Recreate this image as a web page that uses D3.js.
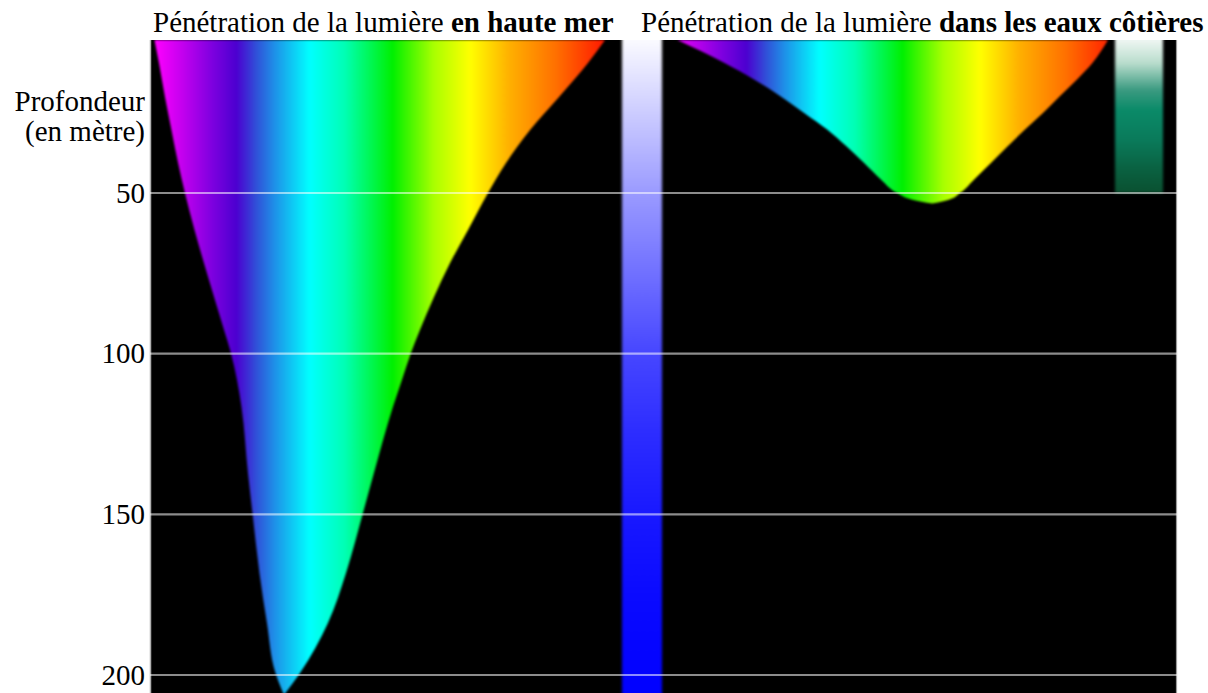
<!DOCTYPE html>
<html><head><meta charset="utf-8">
<script src="https://cdn.jsdelivr.net/npm/d3@7"></script>
<style>
body{margin:0;background:#fff}
svg{display:block}
text{font-family:"Liberation Serif","Times New Roman",serif;fill:#000}
</style>
</head><body>
<svg id="chart" width="1208" height="693"></svg>
<script>
// ---------- DATA ----------
const depthTicks = [50, 100, 150, 200];
const titleOcean = ["Pénétration de la lumière ", "en haute mer"];
const titleCoast = ["Pénétration de la lumière ", "dans les eaux côtières"];
const axisTitle = ["Profondeur", "(en mètre)"];

// Open ocean: depth (m), shortest and longest wavelength (nm) still reaching it
const oceanDepth = [2.4, 9.55, 20.1, 30.4, 40.7, 50, 61.5, 71.8, 82.4, 92.6, 99.8, 108.2, 116.6, 137.1, 149.6, 168.3, 183.8, 199.4, 206.2];
const oceanShort = [379.6, 382.8, 387.1, 391.7, 396.4, 401.3, 408.1, 414.8, 422.0, 429.1, 434.0, 438.3, 441.5, 446.1, 449.3, 454.3, 459.6, 465.7, 471.7];
const oceanLong  = [700.0, 687.9, 667.3, 646.7, 629.6, 616.8, 602.6, 589.8, 578.4, 568.4, 562.0, 555.6, 549.2, 535.7, 527.9, 515.8, 503.0, 483.1, 471.7];

// Coastal waters
const coastDepth = [2.4, 9.46, 14.66, 19.82, 25.11, 30.25, 35.39, 40.68, 45.84, 50.0, 52.07, 53.28];
const coastShort = [388.9, 422.0, 443.3, 461.8, 478.9, 495.3, 508.8, 521.6, 533.7, 545.1, 555.8, 570.0];
const coastLong  = [695.0, 684.1, 673.0, 660.9, 648.8, 636.0, 623.9, 611.8, 599.7, 589.8, 581.9, 570.0];

// Spectrum colour stops (nm)
const spectrumNm     = [380, 398, 420, 438, 452, 465, 490, 515, 549, 578, 604, 632, 665, 700];
const spectrumColors = ["#ff00ff", "#c800f0", "#8000e0", "#4c00d0", "#3050d8", "#1e90e8", "#00ffff", "#00ffb4", "#00f000", "#a8ff00", "#ffff00", "#ffb000", "#ff7000", "#ff1800"];

// Resulting water colour with depth
const oceanBarDepth  = [2.4, 20, 50, 75, 100, 125, 150, 175, 206];
const oceanBarColors = ["#fafaff", "#d6d6ff", "#9a9aff", "#7070ff", "#4646ff", "#2c2cff", "#1818ff", "#0a0aff", "#0000ff"];
const coastBarDepth  = [2.4, 9.6, 18, 24.2, 33.5, 42.9, 50];
const coastBarColors = ["#eef6f2", "#b8dccc", "#3a9a80", "#0a8a68", "#0a7a5a", "#0a6040", "#0a5030"];

// ---------- LAYOUT ----------
const panel = {x0: 150, x1: 1177, y0: 40, y1: 693};
const svg = d3.select("#chart");
const defs = svg.append("defs");

const y = d3.scaleLinear().domain([50, 200]).range([193, 675]);
const xOcean = d3.scaleLinear().domain([380, 700]).range([155, 605]);
const xCoast = d3.scaleLinear().domain([380, 700]).range([665, 1115]);
const oceanBarX = [622, 662];
const coastBarX = [1115, 1163];
const topDepth = y.invert(panel.y0);
const botDepth = y.invert(panel.y1);

function makeBlur(id, sd, yPad) {
  const f = defs.append("filter").attr("id", id)
    .attr("x", "-10%").attr("y", yPad).attr("width", "120%").attr("height", "auto")
    .attr("color-interpolation-filters", "sRGB");
  f.append("feGaussianBlur").attr("stdDeviation", sd);
  return f;
}
defs.append("filter").attr("id", "soft").attr("x", "-5%").attr("y", "-5%").attr("width", "110%").attr("height", "110%")
  .attr("color-interpolation-filters", "sRGB").append("feGaussianBlur").attr("stdDeviation", 1.1);
defs.append("filter").attr("id", "soft2").attr("x", "-20%").attr("y", "-2%").attr("width", "140%").attr("height", "104%")
  .attr("color-interpolation-filters", "sRGB").append("feGaussianBlur").attr("stdDeviation", 1.5);
defs.append("filter").attr("id", "gblur").attr("x", "0").attr("y", "-300%").attr("width", "100%").attr("height", "700%")
  .attr("color-interpolation-filters", "sRGB").append("feGaussianBlur").attr("stdDeviation", 1.0);

defs.append("clipPath").attr("id", "panelClip").append("rect")
  .attr("x", panel.x0).attr("y", panel.y0).attr("width", panel.x1 - panel.x0).attr("height", panel.y1 - panel.y0);

function spectrumGradient(id, xs) {
  const g = defs.append("linearGradient").attr("id", id).attr("gradientUnits", "userSpaceOnUse")
    .attr("x1", xs(380)).attr("x2", xs(700)).attr("y1", 0).attr("y2", 0);
  g.selectAll("stop").data(spectrumNm).join("stop")
    .attr("offset", d => (d - 380) / 320)
    .attr("stop-color", (d, i) => spectrumColors[i]);
}
spectrumGradient("specOcean", xOcean);
spectrumGradient("specCoast", xCoast);

function depthGradient(id, depths, colors, d0, d1) {
  const g = defs.append("linearGradient").attr("id", id).attr("gradientUnits", "userSpaceOnUse")
    .attr("x1", 0).attr("x2", 0).attr("y1", y(d0)).attr("y2", y(d1));
  g.selectAll("stop").data(depths).join("stop")
    .attr("offset", d => (d - d0) / (d1 - d0))
    .attr("stop-color", (d, i) => colors[i]);
}
depthGradient("barOcean", oceanBarDepth, oceanBarColors, topDepth, botDepth);
depthGradient("barCoast", coastBarDepth, coastBarColors, topDepth, 50);

// panel background
svg.append("rect").attr("x", panel.x0).attr("y", panel.y0)
  .attr("width", panel.x1 - panel.x0).attr("height", panel.y1 - panel.y0).attr("fill", "#000");
svg.append("line").attr("x1", panel.x0 + 0.5).attr("x2", panel.x0 + 0.5).attr("y1", panel.y0).attr("y2", panel.y1)
  .attr("stroke", "#b0b0b0").attr("stroke-width", 1.5);
svg.append("line").attr("x1", panel.x1 - 0.5).attr("x2", panel.x1 - 0.5).attr("y1", panel.y0).attr("y2", panel.y1)
  .attr("stroke", "#9a9a9a").attr("stroke-width", 1.2);

const plot = svg.append("g").attr("clip-path", "url(#panelClip)");

function penetration(depths, shortNm, longNm, xs, fillId) {
  const pts = depths.map((d, i) => ({d, a: shortNm[i], b: longNm[i]}));
  const area = d3.area()
    .y(p => y(p.d))
    .x0(p => xs(p.a))
    .x1(p => xs(p.b))
    .curve(d3.curveMonotoneY);
  plot.append("path").datum(pts).attr("d", area)
    .attr("fill", `url(#${fillId})`).attr("filter", "url(#soft)");
}
penetration(oceanDepth, oceanShort, oceanLong, xOcean, "specOcean");
penetration(coastDepth, coastShort, coastLong, xCoast, "specCoast");

// water colour bars
plot.append("rect").attr("x", oceanBarX[0]).attr("width", oceanBarX[1] - oceanBarX[0])
  .attr("y", y(topDepth) - 6).attr("height", y(botDepth) - y(topDepth) + 12)
  .attr("fill", "url(#barOcean)").attr("filter", "url(#soft2)");
plot.append("rect").attr("x", coastBarX[0]).attr("width", coastBarX[1] - coastBarX[0])
  .attr("y", y(topDepth) - 6).attr("height", y(50) - y(topDepth) + 6)
  .attr("fill", "url(#barCoast)").attr("filter", "url(#soft2)");

// grid lines
const grid = svg.append("g");
grid.selectAll("line.glow").data(depthTicks).join("line").attr("class", "glow")
  .attr("x1", panel.x0).attr("x2", panel.x1).attr("y1", d => y(d)).attr("y2", d => y(d))
  .attr("stroke", "#ffffff").attr("stroke-opacity", 0.35).attr("stroke-width", 5).attr("filter", "url(#gblur)");
grid.selectAll("line.core").data(depthTicks).join("line").attr("class", "core")
  .attr("x1", panel.x0).attr("x2", panel.x1).attr("y1", d => y(d)).attr("y2", d => y(d))
  .attr("stroke", "#ffffff").attr("stroke-opacity", 0.55).attr("stroke-width", 2.2);

// y axis labels
const axis = d3.axisLeft(y).tickValues(depthTicks).tickSize(0).tickPadding(4).tickFormat(d3.format("d"));
const ag = svg.append("g").attr("transform", `translate(${panel.x0 - 1},0)`).call(axis);
ag.select(".domain").remove();
ag.attr("font-family", null).attr("font-size", null);
ag.selectAll("text").style("font-size", "29px").style("font-family", "'Liberation Serif', 'Times New Roman', serif").style("fill", "#000");

svg.append("text").attr("x", 145).attr("y", 111).attr("text-anchor", "end").style("font-size", "29px").text(axisTitle[0]);
svg.append("text").attr("x", 145).attr("y", 141).attr("text-anchor", "end").style("font-size", "29px").text(axisTitle[1]);

// titles
function title(x, parts) {
  const t = svg.append("text").attr("x", x).attr("y", 32).style("font-size", "29px");
  t.append("tspan").text(parts[0]);
  t.append("tspan").attr("font-weight", "bold").text(parts[1]);
}
title(153, titleOcean);
title(641, titleCoast);
</script>
</body></html>
